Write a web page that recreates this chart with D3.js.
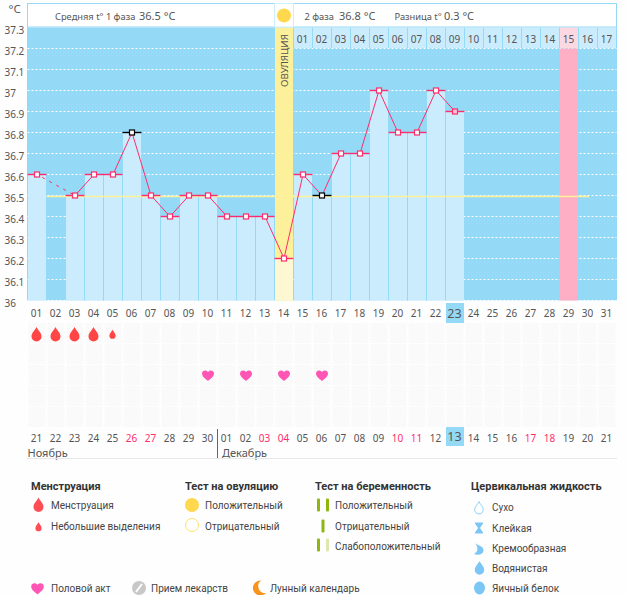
<!DOCTYPE html>
<html>
<head>
<meta charset="utf-8">
<script src="https://cdn.jsdelivr.net/npm/d3@7"></script>
<style>
    html, body { margin: 0; padding: 0; background: #fefefe; }
    svg { display: block; }
    .num { font-family: "Noto Sans", sans-serif; font-size: 10px; fill: #555; }
    .leg { font-family: Roboto, sans-serif; font-size: 10px; fill: #444; }
    .legt { font-family: Roboto, sans-serif; font-size: 11px; font-weight: 700; fill: #333; }
</style>
</head>
<body>
<div id="chart"></div>
<script>
const cycleDays = d3.range(1, 32);
const tempTicks = [36, 36.1, 36.2, 36.3, 36.4, 36.5, 36.6, 36.7, 36.8, 36.9, 37, 37.1, 37.2, 37.3];
// day of cycle -> basal temperature, day 2 was not measured
const tempDays = [1, 3, 4, 5, 6, 7, 8, 9, 10, 11, 12, 13, 14, 15, 16, 17, 18, 19, 20, 21, 22, 23];
const tempValues = [36.6, 36.5, 36.6, 36.6, 36.8, 36.5, 36.4, 36.5, 36.5, 36.4, 36.4, 36.4, 36.2, 36.6, 36.5, 36.7, 36.7, 37, 36.8, 36.8, 37, 36.9];
const excludedDays = [6, 16];
const ovulationDay = 14;
const expectedDay = 29;
const currentDay = 23;
const phaseAverage = 36.5;
const secondPhaseLabels = ["01", "02", "03", "04", "05", "06", "07", "08", "09", "10", "11", "12", "13", "14", "15", "16", "17"];
const dateLabels = ["21", "22", "23", "24", "25", "26", "27", "28", "29", "30", "01", "02", "03", "04", "05", "06", "07", "08", "09", "10", "11", "12", "13", "14", "15", "16", "17", "18", "19", "20", "21"];
const weekendDays = [6, 7, 13, 14, 20, 21, 27, 28];
const mensesDays = [1, 2, 3, 4];
const spottingDays = [5];
const sexDays = [10, 12, 14, 16];

const width = 626, height = 595;
const pink = "#ff2d6b", sky = "#94d9f5", pale = "#cbecfd";

const svg = d3.select("#chart").append("svg").attr("width", width).attr("height", height);

const defs = svg.append("defs");
const hatch = defs.append("pattern").attr("id", "hatch").attr("width", 3).attr("height", 3)
    .attr("patternUnits", "userSpaceOnUse");
hatch.append("rect").attr("width", 3).attr("height", 3).attr("fill", "#fcfcfc");
hatch.append("path").attr("d", "M0 3L3 0").attr("stroke", "#f6f6f6").attr("stroke-width", 1);

const x = d3.scaleBand().domain(cycleDays).range([27.5, 616.5]);
const y = d3.scaleLinear().domain([36, 37.3]).range([300.5, 27.5]);
const bw = x.bandwidth();
const tempOf = d => tempValues[tempDays.indexOf(d)];

// plot background and dotted grid
svg.append("rect").attr("x", x(1) - 0.5).attr("y", y(37.3)).attr("width", bw * 31 + 1).attr("height", y(36) - y(37.3)).attr("fill", sky);
svg.append("g").selectAll("line").data(tempTicks.filter(d => d < 37.3)).enter().append("line")
    .attr("x1", x(1)).attr("x2", x(31) + bw)
    .attr("y1", d => y(d)).attr("y2", d => y(d))
    .attr("stroke", "#fff").attr("stroke-dasharray", "2,2");

// temperature columns
svg.append("g").selectAll("rect").data(tempDays.filter(d => d !== ovulationDay)).enter().append("rect")
    .attr("x", d => x(d) + 0.5).attr("width", bw - 1)
    .attr("y", d => y(tempOf(d))).attr("height", d => y(36) - y(tempOf(d)))
    .attr("fill", pale);
svg.append("g").selectAll("line").data(d3.range(4, 24).filter(d => d !== 15 && d !== 14)).enter().append("line")
    .attr("x1", d => x(d)).attr("x2", d => x(d))
    .attr("y1", d => y(Math.min(tempOf(d), tempOf(d - 1) || 36.5))).attr("y2", y(36))
    .attr("stroke", sky);

// ovulation and expected period columns
svg.append("rect").attr("x", x(ovulationDay) + 0.5).attr("width", bw - 1).attr("y", y(37.3))
    .attr("height", y(36) - y(37.3)).attr("fill", "#fdf09a");
svg.append("rect").attr("x", x(ovulationDay) + 0.5).attr("width", bw - 1).attr("y", y(tempOf(ovulationDay)))
    .attr("height", y(36) - y(tempOf(ovulationDay))).attr("fill", "#fef8d2");
svg.append("rect").attr("x", x(expectedDay)).attr("width", bw - 1).attr("y", y(37.2))
    .attr("height", y(36) - y(37.2)).attr("fill", "#ffafc5");
svg.append("text").attr("class", "num").attr("transform", `translate(${x(ovulationDay) + bw / 2 + 3.5},87) rotate(-90)`)
    .style("font-size", "9.8px").text("ОВУЛЯЦИЯ");

// average line
svg.append("line").attr("x1", x(2)).attr("x2", 589).attr("y1", y(phaseAverage) + 1).attr("y2", y(phaseAverage) + 1)
    .attr("stroke", "#fff09a").attr("stroke-width", 1.5);

// header
const header = svg.append("g").attr("fill", "#fff").attr("stroke", sky);
header.append("rect").attr("x", x(1)).attr("y", 3.5).attr("width", bw * 13).attr("height", 23.5);
header.append("rect").attr("x", x(15)).attr("y", 3.5).attr("width", bw * 17).attr("height", 23.5);
header.append("rect").attr("x", x(ovulationDay)).attr("y", 3.5).attr("width", bw).attr("height", 23.5).attr("stroke", "#cdeefb");
svg.append("circle").attr("cx", x(ovulationDay) + bw / 2).attr("cy", 15.5).attr("r", 7).attr("fill", "#ffd84d");

const headTexts = [
    ["Средняя t° 1 фаза", 55, 9.3],
    ["36.5 °C", 139, 11],
    ["2 фаза", 304.5, 9.3],
    ["36.8 °C", 339, 11],
    ["Разница t°", 394.5, 9.3],
    ["0.3 °C", 444, 11]
];
svg.append("g").selectAll("text").data(headTexts).enter().append("text")
    .attr("class", "num").attr("x", d => d[1]).attr("y", 19.5)
    .style("font-size", d => d[2] + "px").text(d => d[0]);

// second phase day row
const phaseDays = d3.range(15, 32);
svg.append("g").selectAll("rect").data(phaseDays).enter().append("rect")
    .attr("x", d => x(d) + 0.5).attr("y", y(37.3)).attr("width", bw - 1).attr("height", 20.5)
    .attr("fill", d => d === expectedDay ? "#fcd8e3" : pale);
svg.append("g").selectAll("text").data(phaseDays).enter().append("text")
    .attr("class", "num").attr("text-anchor", "middle")
    .attr("x", d => x(d) + bw / 2 - 0.5).attr("y", 43)
    .text((d, i) => secondPhaseLabels[i]);

// temperature axis
const yAxis = d3.axisLeft(y).tickValues(tempTicks).tickSize(0).tickPadding(0).tickFormat(d => d3.format("")(+d.toFixed(1)));
const yG = svg.append("g").attr("transform", "translate(23,2.5)").call(yAxis);
yG.select(".domain").remove();
yG.selectAll("text").attr("class", "num").attr("text-anchor", "start").attr("x", -18.5).attr("font-family", null).attr("font-size", null);
svg.append("text").attr("class", "num").attr("x", 8.5).attr("y", 13).style("font-size", "11.5px").text("°C");

// temperature line, dashed over the missed day
svg.append("line").attr("x1", x(1) + bw / 2).attr("x2", x(3) + bw / 2)
    .attr("y1", y(tempOf(1))).attr("y2", y(tempOf(3)))
    .attr("stroke", pink).attr("stroke-dasharray", "3,5").attr("stroke-dashoffset", -6);
const line = d3.line().x(d => x(d) + bw / 2).y(d => y(tempOf(d)));
svg.append("path").attr("d", line(tempDays.slice(1))).attr("fill", "none").attr("stroke", pink);

svg.append("g").selectAll("line").data(tempDays).enter().append("line")
    .attr("x1", d => x(d)).attr("x2", d => x(d) + bw)
    .attr("y1", d => y(tempOf(d))).attr("y2", d => y(tempOf(d)))
    .attr("stroke", d => excludedDays.includes(d) ? "#000" : pink).attr("stroke-width", 1.4);
svg.append("g").selectAll("rect").data(tempDays).enter().append("rect")
    .attr("x", d => x(d) + bw / 2 - 2.5).attr("y", d => y(tempOf(d)) - 2.5)
    .attr("width", 5).attr("height", 5)
    .attr("fill", d => d === currentDay ? "#ffc0d2" : "#fff")
    .attr("stroke", d => excludedDays.includes(d) ? "#000" : pink).attr("stroke-width", 1.2);

// symptom rows and date rows
const rowTops = [323, 344, 365, 386, 407];
const rows = svg.append("g");
rowTops.forEach(top => {
    rows.append("g").selectAll("rect").data(cycleDays).enter().append("rect")
        .attr("x", d => x(d) + 1).attr("y", top).attr("width", bw - 2).attr("height", 20)
        .attr("fill", "url(#hatch)");
});
svg.append("g").selectAll("text").data(cycleDays.filter(d => d !== currentDay)).enter().append("text")
    .attr("class", "num").attr("text-anchor", "middle")
    .attr("x", d => x(d) + bw / 2 - 0.5).attr("y", 316.5).text(d => d3.format("02")(d));

svg.append("rect").attr("x", x(currentDay) + 0.5).attr("y", 303).attr("width", bw - 1).attr("height", 20).attr("fill", sky);
svg.append("rect").attr("x", x(currentDay) + 0.5).attr("y", 427).attr("width", bw - 1).attr("height", 19).attr("fill", sky);
svg.selectAll("text.date").data(cycleDays).enter().append("text")
    .attr("class", "num date").attr("text-anchor", "middle")
    .attr("x", d => x(d) + bw / 2 - 0.5).attr("y", d => d === currentDay ? 441 : 441.5)
    .style("font-size", d => d === currentDay ? "12.5px" : null)
    .style("fill", d => weekendDays.includes(d) ? pink : null)
    .text((d, i) => dateLabels[i]);
svg.selectAll("text.curr").data([currentDay]).enter().append("text")
    .attr("class", "num curr").attr("text-anchor", "middle")
    .attr("x", d => x(d) + bw / 2 - 0.5).attr("y", 317.5)
    .style("font-size", "12.5px").text(d => d);

svg.append("text").attr("class", "num").attr("x", 27.5).attr("y", 457).style("font-size", "11px").text("Ноябрь");
svg.append("text").attr("class", "num").attr("x", 222).attr("y", 457).style("font-size", "11px").text("Декабрь");
svg.append("line").attr("x1", 217.5).attr("x2", 217.5).attr("y1", 429).attr("y2", 458).attr("stroke", "#666");
svg.append("line").attr("x1", 27).attr("x2", 617).attr("y1", 458.5).attr("y2", 458.5).attr("stroke", "#e8e8e8");

// icons
const dropPath = "M0 -7.5C1.2 -4.5 5 -2 5 2A5 5 0 0 1 -5 2C-5 -2 -1.2 -4.5 0 -7.5Z";
const heartPath = "M0 6C-3 3.5 -6 1.5 -6 -1.5C-6 -5 -1.5 -5.5 0 -3C1.5 -5.5 6 -5 6 -1.5C6 1.5 3 3.5 0 6Z";
const drawIcon = (g, cx, cy, path, fill, s = 1) => g.append("path")
    .attr("transform", `translate(${cx},${cy}) scale(${s})`).attr("d", path).attr("fill", fill);

mensesDays.forEach(d => drawIcon(svg, x(d) + bw / 2 - 0.5, 334.5, dropPath, "#ff4545"));
spottingDays.forEach(d => drawIcon(svg, x(d) + bw / 2 - 0.5, 334.5, dropPath, "#ff4545", 0.62));
sexDays.forEach(d => drawIcon(svg, x(d) + bw / 2, 375, heartPath, "#ff55b4"));

// legend
const legend = svg.append("g");
const title = (t, tx) => legend.append("text").attr("class", "legt").attr("x", tx).attr("y", 490).text(t);
const item = (t, tx, cy) => legend.append("text").attr("class", "leg").attr("x", tx).attr("y", cy + 4).text(t);

title("Менструация", 31);
title("Тест на овуляцию", 185);
title("Тест на беременность", 315);
title("Цервикальная жидкость", 471);

item("Менструация", 51, 505);
item("Небольшие выделения", 51, 526);
drawIcon(legend, 38.5, 505, dropPath, "#ff4d55");
drawIcon(legend, 38.5, 527, dropPath, "#ff4d55", 0.62);

item("Положительный", 205, 505);
item("Отрицательный", 205, 526);
legend.append("circle").attr("cx", 192).attr("cy", 505).attr("r", 7).attr("fill", "#ffd84d");
legend.append("circle").attr("cx", 192).attr("cy", 525).attr("r", 6.5).attr("fill", "#fff").attr("stroke", "#ffe26a");

item("Положительный", 335, 505);
item("Отрицательный", 335, 526);
item("Слабоположительный", 335, 546);
const stick = (sx, cy, fill) => legend.append("rect").attr("x", sx).attr("y", cy - 6.5).attr("width", 3).attr("height", 13).attr("rx", 1).attr("fill", fill);
stick(317, 505, "#8fb50f");
stick(326, 505, "#8fb50f");
stick(321.5, 526, "#8fb50f");
stick(317, 545, "#8fb50f");
stick(326, 545, "#dde8b0");

const fluidBlue = "#7cc6f5";
item("Сухо", 492, 507);
item("Клейкая", 492, 528);
item("Кремообразная", 492, 548);
item("Водянистая", 492, 568);
item("Яичный белок", 492, 588);
legend.append("path").attr("transform", "translate(479,508) scale(.85)").attr("d", dropPath).attr("fill", "#fff").attr("stroke", fluidBlue);
legend.append("path").attr("transform", "translate(479,528)").attr("d", "M-4 -5.5H4V-4.5L1 0L4 4.5V5.5H-4V4.5L-1 0L-4 -4.5Z").attr("fill", fluidBlue);
legend.append("path").attr("transform", "translate(479,549)").attr("d", "M-4.5 -6C-2 -3.5 5 -3 4.5 1.5C4 6 -2 6.5 -5 5C-1 3 0 -2 -4.5 -6Z").attr("fill", fluidBlue);
drawIcon(legend, 479.5, 568, dropPath, fluidBlue, 0.95);
legend.append("ellipse").attr("cx", 479.5).attr("cy", 588).attr("rx", 5.5).attr("ry", 6.5).attr("fill", fluidBlue);

item("Половой акт", 51, 588);
item("Прием лекарств", 151, 588);
item("Лунный календарь", 270, 588);
drawIcon(legend, 37.5, 588, heartPath, "#ff55b4", 1.05);
legend.append("circle").attr("cx", 139).attr("cy", 588).attr("r", 7).attr("fill", "#c8c8c8");
legend.append("line").attr("x1", 136).attr("x2", 142).attr("y1", 592).attr("y2", 584).attr("stroke", "#fff").attr("stroke-width", 2);
legend.append("path").attr("transform", "translate(259,588)").attr("d", "M2 -7.5A7.5 7.5 0 1 0 7 5A7 7 0 0 1 2 -7.5Z").attr("fill", "#f7941d");
</script>
</body>
</html>
